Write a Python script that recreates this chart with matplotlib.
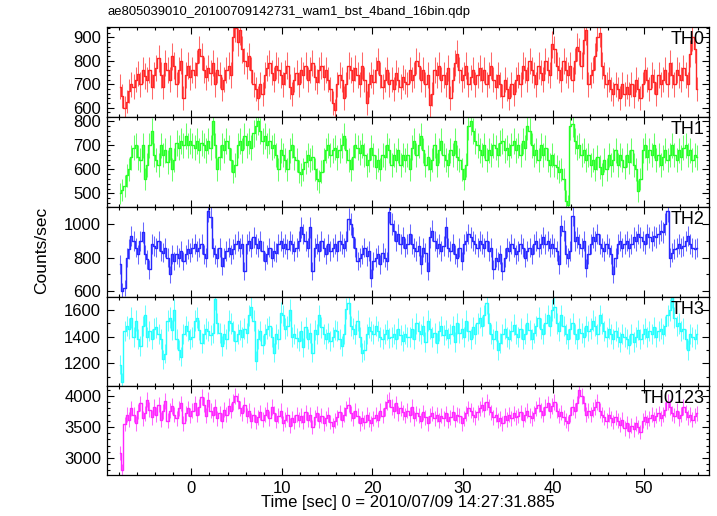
import numpy as np
import matplotlib
matplotlib.use("Agg")
import matplotlib.pyplot as plt
from matplotlib.ticker import MultipleLocator

plt.rcParams['font.family'] = ['Liberation Sans', 'DejaVu Sans']

title = "ae805039010_20100709142731_wam1_bst_4band_16bin.qdp"
xlabel = "Time [sec] 0 = 2010/07/09 14:27:31.885"
ylabel = "Counts/sec"
t_start = -8.0
bin_width = 0.25

band_names = ["TH0", "TH1", "TH2", "TH3", "TH0123"]
band_colors = ["#ff2828", "#28ff28", "#2828ff", "#28ffff", "#ff28ff"]

th0 = [
    690, 650, 600, 625, 670, 700, 690, 720, 745, 700, 760, 735, 720, 760, 690, 740,
    770, 810, 740, 690, 790, 760, 720, 820, 780, 700, 760, 800, 640, 740, 780, 730,
    760, 740, 790, 850, 820, 760, 730, 770, 750, 790, 700, 760, 740, 680, 720, 760,
    780, 740, 900, 940, 880, 930, 850, 800, 780, 820, 760, 700, 680, 640, 700, 660,
    740, 770, 790, 750, 720, 780, 760, 740, 700, 750, 780, 690, 660, 720, 750, 700,
    760, 740, 780, 720, 760, 790, 730, 710, 760, 780, 730, 760, 720, 680, 620, 590,
    700, 740, 720, 640, 700, 780, 760, 720, 770, 740, 700, 780, 720, 620, 700, 740,
    710, 760, 800, 740, 690, 720, 760, 700, 720, 680, 750, 720, 690, 730, 710, 700,
    760, 720, 740, 800, 780, 720, 760, 700, 740, 610, 660, 760, 740, 780, 720, 740,
    700, 770, 640, 720, 790, 830, 760, 720, 740, 780, 700, 730, 760, 700, 740, 770,
    720, 760, 700, 740, 780, 720, 690, 740, 700, 650, 720, 680, 640, 700, 660, 720,
    740, 700, 780, 760, 720, 800, 760, 740, 700, 780, 750, 720, 800, 760, 740, 870,
    850, 780, 760, 720, 800, 760, 740, 780, 720, 800, 860, 840, 780, 890, 930, 700,
    740, 760, 820, 900, 920, 780, 740, 700, 720, 680, 660, 700, 680, 640, 700, 660,
    690, 660, 700, 650, 720, 680, 640, 700, 760, 720, 680, 740, 710, 660, 740, 700,
    720, 760, 700, 790, 740, 700, 760, 740, 720, 770, 740, 700, 830, 900, 850, 680,
]

th1 = [
    500, 515, 530, 575, 600, 650, 690, 700, 650, 640, 700, 560, 620, 700, 760, 660,
    640, 620, 700, 660, 680, 630, 690, 600, 640, 710, 690, 720, 700, 740, 700, 720,
    700, 690, 720, 680, 710, 700, 680, 720, 690, 800, 700, 600, 650, 700, 680, 720,
    690, 640, 590, 620, 700, 720, 680, 740, 700, 720, 690, 750, 780, 800, 760, 720,
    740, 700, 720, 690, 700, 660, 600, 680, 660, 640, 600, 680, 700, 650, 640, 590,
    580, 600, 630, 660, 640, 650, 600, 560, 550, 590, 640, 680, 700, 660, 680, 690,
    650, 680, 700, 740, 680, 640, 600, 650, 700, 690, 670, 700, 660, 620, 640, 690,
    660, 610, 640, 600, 660, 650, 700, 680, 620, 660, 640, 680, 620, 660, 640, 660,
    600, 690, 720, 660, 700, 740, 680, 620, 650, 600, 640, 700, 620, 680, 720, 660,
    640, 620, 680, 660, 720, 650, 640, 600, 560, 620, 780, 800, 760, 720, 700, 680,
    660, 700, 640, 680, 660, 700, 690, 660, 710, 720, 680, 690, 660, 700, 720, 680,
    700, 660, 720, 690, 780, 760, 700, 660, 680, 640, 700, 660, 690, 640, 620, 660,
    620, 610, 590, 600, 560, 470, 450, 780, 790, 720, 690, 700, 660, 680, 640, 660,
    620, 640, 600, 650, 610, 580, 640, 600, 660, 620, 640, 680, 620, 660, 640, 610,
    660, 630, 680, 620, 600, 510, 560, 680, 700, 650, 680, 660, 700, 640, 660, 620,
    650, 680, 640, 660, 700, 660, 640, 680, 650, 690, 700, 660, 680, 640, 660, 650,
]

th2 = [
    760, 600, 620, 800, 850, 930, 900, 860, 820, 900, 950, 820, 790, 730, 880, 870,
    860, 900, 840, 830, 860, 800, 700, 820, 780, 820, 800, 840, 780, 820, 850, 830,
    860, 880, 840, 860, 880, 820, 800, 1080, 1040, 860, 820, 800, 860, 750, 800, 840,
    860, 820, 850, 880, 900, 860, 880, 720, 880, 900, 860, 920, 880, 860, 900, 840,
    780, 820, 860, 800, 840, 830, 880, 900, 860, 880, 850, 900, 880, 840, 860, 900,
    980, 940, 900, 860, 980, 720, 860, 880, 840, 900, 860, 820, 880, 840, 860, 880,
    840, 900, 880, 860, 900, 1030, 1000, 920, 860, 780, 800, 820, 860, 810, 840, 680,
    780, 800, 820, 760, 830, 800, 780, 1070, 1000, 960, 900, 940, 880, 920, 860, 880,
    940, 880, 860, 840, 870, 760, 860, 830, 720, 920, 960, 900, 860, 880, 840, 870,
    980, 860, 840, 880, 820, 800, 860, 780, 880, 900, 940, 920, 900, 880, 860, 900,
    880, 860, 900, 840, 860, 730, 800, 780, 820, 720, 800, 860, 840, 880, 860, 820,
    840, 880, 860, 800, 840, 860, 820, 880, 900, 860, 880, 920, 880, 900, 860, 880,
    860, 840, 760, 990, 960, 820, 800, 840, 1050, 900, 920, 880, 860, 900, 740, 820,
    880, 920, 900, 940, 880, 860, 840, 880, 860, 820, 700, 800, 880, 900, 860, 880,
    900, 860, 880, 920, 900, 940, 920, 900, 880, 940, 920, 900, 930, 920, 940, 960,
    950, 1000, 1080, 800, 830, 850, 860, 880, 860, 870, 900, 930, 880, 860, 850, 860,
]

th3 = [
    1190, 1060, 1440, 1480, 1460, 1540, 1400, 1520, 1380, 1330, 1480, 1560, 1400, 1440, 1380, 1460,
    1470, 1420, 1380, 1230, 1270, 1520, 1540, 1450, 1600, 1380, 1300, 1250, 1420, 1480, 1440, 1380,
    1400, 1520, 1540, 1450, 1350, 1420, 1460, 1440, 1410, 1430, 1680, 1500, 1430, 1330, 1420, 1380,
    1520, 1500, 1440, 1370, 1420, 1450, 1400, 1460, 1430, 1560, 1620, 1520, 1220, 1380, 1440, 1340,
    1420, 1460, 1480, 1400, 1280, 1420, 1380, 1580, 1560, 1460, 1480, 1600, 1400, 1420, 1390, 1370,
    1440, 1320, 1470, 1380, 1430, 1280, 1450, 1420, 1560, 1470, 1420, 1380, 1430, 1370, 1400, 1450,
    1440, 1380, 1330, 1420, 1610, 1650, 1480, 1460, 1420, 1520, 1400, 1280, 1300, 1420, 1470, 1440,
    1420, 1480, 1440, 1400, 1380, 1420, 1450, 1390, 1400, 1420, 1380, 1460, 1410, 1370, 1420, 1400,
    1400, 1460, 1380, 1500, 1440, 1420, 1480, 1360, 1520, 1460, 1400, 1430, 1350, 1440, 1480, 1410,
    1450, 1390, 1420, 1480, 1360, 1500, 1430, 1460, 1400, 1520, 1440, 1380, 1470, 1420, 1500, 1540,
    1480, 1560, 1650, 1500, 1420, 1380, 1440, 1300, 1350, 1420, 1460, 1400, 1380, 1440, 1490, 1420,
    1400, 1460, 1380, 1420, 1500, 1450, 1380, 1430, 1480, 1540, 1460, 1420, 1500, 1560, 1480, 1600,
    1620, 1500, 1440, 1560, 1480, 1420, 1380, 1460, 1500, 1420, 1380, 1460, 1430, 1400, 1480, 1440,
    1460, 1520, 1480, 1420, 1560, 1500, 1440, 1400, 1460, 1420, 1380, 1440, 1400, 1360, 1420, 1400,
    1380, 1340, 1420, 1360, 1400, 1450, 1380, 1420, 1460, 1400, 1440, 1420, 1470, 1400, 1440, 1460,
    1420, 1480, 1560, 1600, 1700, 1540, 1480, 1500, 1440, 1460, 1380, 1300, 1420, 1400, 1380, 1420,
]

th0123 = [
    3080, 2800, 3550, 3700, 3620, 3800, 3700, 3560, 3750, 3880, 3640, 3720, 3940, 3780, 3660, 3820,
    3700, 3860, 3620, 3750, 3920, 3600, 3760, 3840, 3700, 3640, 3800, 3880, 3560, 3720, 3800, 3680,
    3760, 3880, 3700, 3820, 3980, 3860, 3680, 3940, 3760, 3700, 3820, 3640, 3720, 3600, 3780, 3700,
    3840, 3760, 3900, 4000, 3920, 3800, 3720, 3860, 3680, 3760, 3600, 3700, 3580, 3660, 3740, 3620,
    3700, 3780, 3640, 3820, 3720, 3600, 3680, 3760, 3560, 3620, 3700, 3520, 3640, 3580, 3700, 3620,
    3680, 3580, 3740, 3620, 3700, 3500, 3660, 3720, 3600, 3680, 3560, 3640, 3700, 3580, 3520, 3600,
    3660, 3740, 3620, 3700, 3800, 3860, 3720, 3640, 3760, 3680, 3560, 3640, 3580, 3700, 3620, 3560,
    3640, 3700, 3620, 3760, 3680, 3800, 3900, 3940, 3820, 3760, 3880, 3720, 3800, 3740, 3680, 3760,
    3700, 3820, 3640, 3720, 3680, 3600, 3740, 3660, 3560, 3680, 3720, 3640, 3700, 3600, 3680, 3640,
    3720, 3600, 3660, 3740, 3620, 3700, 3680, 3560, 3640, 3720, 3800, 3760, 3700, 3660, 3740, 3800,
    3860, 3780, 3900, 3820, 3740, 3660, 3700, 3600, 3640, 3560, 3680, 3620, 3700, 3640, 3720, 3660,
    3680, 3740, 3620, 3700, 3760, 3680, 3640, 3720, 3800, 3860, 3760, 3700, 3820, 3880, 3760, 3840,
    3900, 3760, 3680, 3740, 3660, 3600, 3560, 3700, 3820, 3760, 3880, 4100, 4000, 3880, 3700, 3760,
    3700, 3780, 3820, 3900, 3760, 3700, 3660, 3600, 3700, 3640, 3580, 3660, 3600, 3540, 3620, 3480,
    3560, 3440, 3520, 3460, 3560, 3500, 3420, 3600, 3660, 3580, 3640, 3700, 3620, 3680, 3720, 3640,
    3700, 3780, 3900, 3820, 3720, 3680, 3760, 3640, 3700, 3820, 3740, 3660, 3700, 3620, 3680, 3720,
]

series = [th0, th1, th2, th3, th0123]

y_limits = [(561, 946), (443, 820), (566, 1101), (1030, 1697), (2726, 4161)]
y_major = [100, 100, 200, 200, 500]
y_minor = [20, 20, 100, 100, 100]

W, H = 717, 516
fig = plt.figure(figsize=(W / 100, H / 100), dpi=100)

left_px, right_px = 106.7, 709.0
bounds_px = [26.7, 116.7, 207.0, 297.0, 386.0, 475.0]

xlim = (-9.35, 57.2)

for i in range(5):
    top, bot = bounds_px[i], bounds_px[i + 1]
    ax = fig.add_axes([left_px / W, 1 - bot / H, (right_px - left_px) / W, (bot - top) / H])
    vals = np.asarray(series[i], dtype=float)
    t = t_start + bin_width / 2 + bin_width * np.arange(len(vals))
    err = np.sqrt(vals * bin_width) / bin_width
    col = band_colors[i]
    ax.errorbar(t, vals, yerr=err, fmt='none', ecolor=col, elinewidth=0.75, alpha=0.7, capsize=0)
    ax.step(t, vals, where='mid', color=col, lw=1.0)
    ax.set_xlim(*xlim)
    ax.set_ylim(*y_limits[i])
    ax.xaxis.set_major_locator(MultipleLocator(10))
    ax.xaxis.set_minor_locator(MultipleLocator(2))
    ax.yaxis.set_major_locator(MultipleLocator(y_major[i]))
    ax.yaxis.set_minor_locator(MultipleLocator(y_minor[i]))
    ax.tick_params(which='both', direction='in', top=True, right=True, width=0.8, colors='black')
    ax.tick_params(which='major', length=5)
    ax.tick_params(which='minor', length=2.5)
    ax.tick_params(axis='both', labelsize=12, pad=4)
    for sp in ax.spines.values():
        sp.set_linewidth(0.9)
    if i < 4:
        ax.tick_params(axis='x', labelbottom=False)
    ax.text(0.993, 0.86, band_names[i], transform=ax.transAxes, ha='right', va='center', fontsize=13)

fig.text(107 / W, 1 - 12 / H, title, ha='left', va='center', fontsize=9.4)
fig.text(408 / W, 1 - 503 / H, xlabel, ha='center', va='center', fontsize=12)
fig.text(42 / W, 1 - 250 / H, ylabel, ha='center', va='center', rotation=90, fontsize=12.5)

fig.savefig("out.png", dpi=100)
